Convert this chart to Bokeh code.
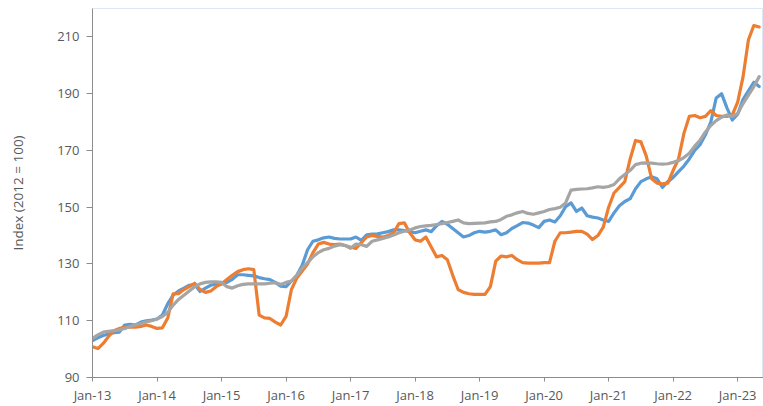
from bokeh.plotting import figure
from bokeh.models import FixedTicker, Range1d
from bokeh.embed import file_html
from bokeh.resources import INLINE

# Monthly index values, Jan-13 (month 0) to May-23 (month 124)
blue = [103, 104, 104.8, 105.3, 105.8, 106, 108.5, 108.7, 108.5, 109.5, 110, 110.2,
        110.6, 112, 116, 119, 120.5, 121.5, 122.5, 122.8, 120.3, 121.5, 122.5, 123,
        123, 123.5, 124.6, 126.2, 126.2, 126, 125.8, 125.2, 124.8, 124.5, 123.5, 122.2,
        122, 124, 126, 129.5, 135, 138, 138.5, 139.2, 139.5, 139, 138.8, 138.8,
        138.8, 139.5, 138.3, 140.3, 140.5, 140.6, 141, 141.4, 142, 142, 141.8, 141.4,
        141, 141.5, 142, 141.4, 143.5, 145, 144, 142.5, 141, 139.5, 140, 141,
        141.5, 141.2, 141.5, 142, 140.3, 141, 142.5, 143.5, 144.6, 144.4, 143.7, 142.8,
        145, 145.5, 144.8, 147, 150.2, 151.5, 148.5, 149.7, 147, 146.5, 146.2, 145.5,
        145, 148, 150.5, 152, 153, 156.5, 159, 160, 160.7, 160, 157, 159,
        160.5, 162.5, 164.5, 167, 170, 172, 175.5, 180, 188.5, 190, 185, 180.7,
        182.8, 188, 191, 194, 192.5]

orange = [100.8, 100.2, 102, 104.5, 106.5, 107.3, 107.6, 107.7, 107.7, 108, 108.5, 108,
          107.3, 107.5, 111, 119.5, 119.5, 121, 122, 123.2, 121, 120, 120.5, 122,
          123, 124.5, 126, 127.3, 128, 128.3, 128, 112, 111, 110.8, 109.5, 108.5,
          111.5, 121, 125, 127.5, 130, 134, 137, 137.6, 137, 136.8, 137, 136.5,
          135.9, 135.5, 137.5, 139.5, 140, 139.7, 139.5, 140, 141, 144.2, 144.5, 141,
          138.5, 138, 139.5, 136, 132.5, 133, 131.5, 126, 121, 120, 119.5, 119.3,
          119.3, 119.3, 122, 131, 132.8, 132.5, 133, 131.5, 130.5, 130.3, 130.3, 130.3,
          130.5, 130.5, 138, 141, 141, 141.2, 141.5, 141.5, 140.5, 138.6, 140, 143,
          150, 155, 157, 159, 167, 173.5, 173, 168, 160, 158.5, 158.2, 158.5,
          163, 167, 176, 182, 182.3, 181.5, 182, 184, 182.3, 182, 182, 182.5,
          187, 196, 209, 214, 213.5]

gray = [103.8, 105, 106, 106.3, 106.5, 106.8, 107.3, 108, 108.5, 109, 109.6, 110,
        110.6, 111.5, 113, 115.5, 117.5, 119, 120.5, 122, 123, 123.5, 123.7, 123.7,
        123.5, 122, 121.5, 122.3, 122.8, 123, 123, 123, 123, 123.2, 123.4, 122.8,
        123.5, 124, 126, 128.5, 130.5, 132.5, 134, 135, 135.5, 136.3, 136.8, 136.5,
        135.5, 137, 136.8, 136.2, 138, 138.5, 139, 139.5, 140.2, 141, 141.5, 142,
        142.7, 143.2, 143.4, 143.6, 143.9, 144.2, 144.6, 145, 145.5, 144.5, 144.2, 144.3,
        144.4, 144.5, 144.8, 145, 145.7, 146.8, 147.3, 148, 148.5, 147.8, 147.5, 148,
        148.5, 149.2, 149.5, 150, 151.5, 156, 156.3, 156.4, 156.5, 156.8, 157.2, 157,
        157.3, 158, 160, 161.5, 163, 165, 165.5, 165.6, 165.5, 165.3, 165.2, 165.3,
        165.8, 166.4, 167.5, 169, 171.5, 173.6, 176.5, 178.8, 180.5, 181.7, 182.5, 182,
        183, 186.5, 189.5, 192.5, 196]

tick_labels = ["Jan-13", "Jan-14", "Jan-15", "Jan-16", "Jan-17", "Jan-18",
               "Jan-19", "Jan-20", "Jan-21", "Jan-22", "Jan-23"]
y_ticks = [90, 110, 130, 150, 170, 190, 210]

months = list(range(len(blue)))
x_ticks = [12 * i for i in range(len(tick_labels))]

FONT = "Open Sans"
TXT = "#595959"

p = figure(width=763, height=406, output_backend="svg", toolbar_location=None,
           x_range=Range1d(0, 124.8), y_range=Range1d(90, 220),
           min_border_left=92, min_border_right=0, min_border_top=8,
           min_border_bottom=27)

p.background_fill_color = "white"
p.border_fill_color = "white"
p.outline_line_color = "#DCE8F4"
p.outline_line_width = 1
p.xgrid.visible = False
p.ygrid.visible = False

for ys, col in [(blue, "#5B9BD5"), (orange, "#ED7D31"), (gray, "#A5A5A5")]:
    p.line(months, ys, line_color=col, line_width=3.2, line_join="round", line_cap="round")

xa = p.xaxis[0]
xa.ticker = FixedTicker(ticks=x_ticks)
xa.major_label_overrides = {t: lab for t, lab in zip(x_ticks, tick_labels)}
xa.minor_tick_line_color = None
xa.major_tick_in = 0
xa.major_tick_out = 4
xa.major_label_standoff = 4

ya = p.yaxis[0]
ya.ticker = FixedTicker(ticks=y_ticks)
ya.minor_tick_line_color = None
ya.major_tick_in = 0
ya.major_tick_out = 6
ya.major_label_standoff = 7
ya.axis_label = "Index (2012 = 100)"
ya.axis_label_standoff = 27
ya.axis_label_text_font = FONT
ya.axis_label_text_font_size = "13.5px"
ya.axis_label_text_font_style = "normal"
ya.axis_label_text_color = TXT

for ax in (xa, ya):
    ax.axis_line_color = "#8C8C8C"
    ax.major_tick_line_color = "#8C8C8C"
    ax.major_label_text_font = FONT
    ax.major_label_text_font_size = "13px"
    ax.major_label_text_color = TXT

open("out.html", "w").write(file_html(p, INLINE))
